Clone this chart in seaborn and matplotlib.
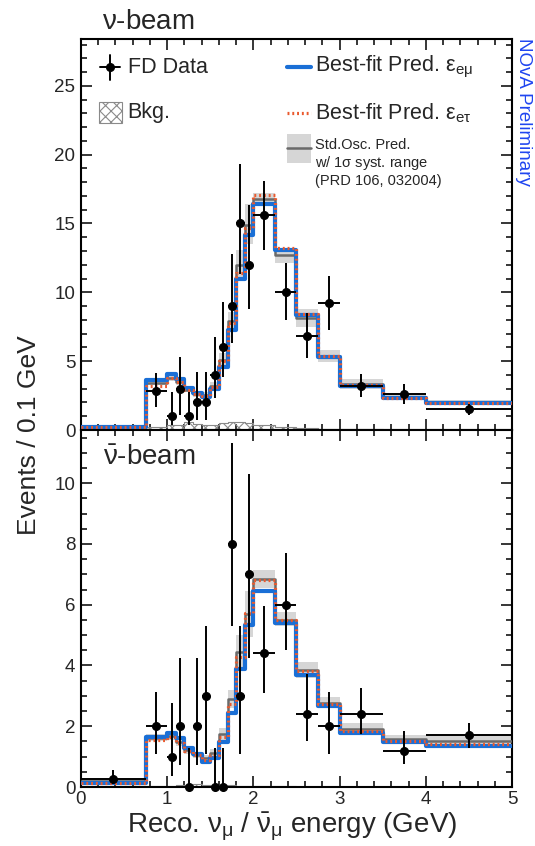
import numpy as np
import matplotlib
matplotlib.use("Agg")
import matplotlib.pyplot as plt
import seaborn as sns
from matplotlib.patches import Rectangle

# ---------------- data ----------------
bin_edges = [0.0, 0.75, 1.0, 1.1, 1.2, 1.3, 1.4, 1.5, 1.6, 1.7, 1.8, 1.9,
             2.0, 2.25, 2.5, 2.75, 3.0, 3.5, 4.0, 5.0]

# neutrino beam (top)
nu_bestfit_emu = [0.24, 3.63, 4.05, 3.68, 3.03, 2.70, 2.37, 2.95, 4.55, 7.30,
                  11.0, 14.2, 16.4, 13.05, 8.36, 5.33, 3.20, 2.30, 1.94]
nu_bestfit_etau = [0.22, 3.20, 3.75, 3.50, 2.90, 2.60, 2.47, 3.10, 5.00, 7.75,
                   11.4, 14.65, 17.05, 13.2, 8.42, 5.36, 3.24, 2.33, 1.97]
nu_std = [0.25, 3.45, 3.75, 3.50, 2.92, 2.58, 2.52, 3.20, 5.05, 7.90,
          12.0, 14.9, 16.75, 12.7, 8.15, 5.35, 3.35, 2.42, 2.00]
nu_std_lo = [0.15, 3.25, 3.55, 3.30, 2.75, 2.40, 2.30, 2.90, 4.50, 7.20,
             11.0, 13.5, 16.25, 12.1, 7.50, 4.95, 3.00, 2.20, 1.85]
nu_std_hi = [0.35, 3.65, 3.95, 3.70, 3.10, 2.75, 2.75, 3.50, 5.60, 8.60,
             13.1, 16.4, 17.25, 13.2, 8.80, 5.80, 3.70, 2.65, 2.15]
nu_bkg = [0.05, 0.25, 0.40, 0.40, 0.60, 0.45, 0.35, 0.35, 0.50, 0.55,
          0.55, 0.50, 0.35, 0.25, 0.15, 0.10, 0.05, 0.03, 0.02]
nu_data_x = [0.875, 1.05, 1.15, 1.25, 1.35, 1.45, 1.55, 1.65, 1.75, 1.85, 1.95,
             2.125, 2.375, 2.625, 2.875, 3.25, 3.75, 4.5]
nu_data_y = [2.8, 1.0, 3.0, 1.0, 2.0, 2.0, 4.0, 6.0, 9.0, 15.0, 12.0,
             15.6, 10.0, 6.8, 9.2, 3.2, 2.6, 1.5]
nu_data_lo = [1.70, 0.37, 1.10, 0.37, 0.74, 0.74, 2.34, 3.82, 6.33, 11.3, 8.77,
              13.1, 8.0, 5.2, 7.3, 2.42, 1.90, 1.12]
nu_data_hi = [4.12, 2.75, 5.30, 2.75, 4.25, 4.25, 6.78, 9.28, 12.79, 19.3, 16.35,
              18.1, 12.1, 8.5, 11.2, 4.05, 3.35, 1.90]

# antineutrino beam (bottom)
anu_bestfit_emu = [0.12, 1.66, 1.77, 1.60, 1.27, 1.10, 0.83, 0.94, 1.49, 2.45,
                   3.87, 5.33, 6.45, 5.40, 3.68, 2.66, 1.79, 1.49, 1.36]
anu_bestfit_etau = [0.12, 1.55, 1.66, 1.45, 1.20, 1.05, 0.90, 1.05, 1.66, 2.73,
                    4.27, 5.73, 6.80, 5.50, 3.82, 2.73, 1.84, 1.52, 1.40]
anu_std = [0.20, 1.62, 1.68, 1.48, 1.22, 1.05, 0.95, 1.12, 1.75, 2.90,
           4.45, 5.70, 6.85, 5.50, 3.85, 2.78, 1.92, 1.57, 1.50]
anu_std_lo = [0.10, 1.50, 1.55, 1.35, 1.10, 0.95, 0.85, 1.00, 1.55, 2.60,
              3.90, 4.95, 6.55, 5.30, 3.60, 2.60, 1.75, 1.45, 1.35]
anu_std_hi = [0.30, 1.75, 1.80, 1.60, 1.35, 1.15, 1.05, 1.25, 1.95, 3.20,
              5.00, 6.45, 7.15, 5.75, 4.10, 2.97, 2.10, 1.70, 1.70]
anu_bkg = [0.02, 0.03, 0.05, 0.06, 0.08, 0.10, 0.08, 0.06, 0.07, 0.06,
           0.05, 0.05, 0.04, 0.02, 0.01, 0.005, 0.0, 0.0, 0.0]
anu_data_x = [0.375, 0.875, 1.05, 1.15, 1.25, 1.35, 1.45, 1.55, 1.65, 1.75, 1.85,
              1.95, 2.125, 2.375, 2.625, 2.875, 3.25, 3.75, 4.5]
anu_data_y = [0.267, 2.0, 1.0, 2.0, 0.0, 2.0, 3.0, 0.0, 0.0, 8.0, 3.0,
              7.0, 4.4, 6.0, 2.4, 2.0, 2.4, 1.2, 1.7]
anu_data_lo = [0.099, 1.10, 0.37, 0.74, 0.0, 0.74, 1.10, 0.0, 0.0, 5.30, 1.10,
               4.25, 3.10, 4.50, 1.53, 1.10, 1.74, 0.76, 1.29]
anu_data_hi = [0.567, 3.12, 2.75, 4.25, 1.29, 4.25, 5.30, 1.29, 1.29, 11.32, 5.30,
               10.30, 5.95, 7.70, 3.71, 3.12, 3.26, 1.86, 2.12]

# ---------------- style ----------------
sns.set_theme(style="ticks")
plt.rcParams['font.family'] = ['Liberation Sans', 'DejaVu Sans']
plt.rcParams['mathtext.fontset'] = 'custom'
plt.rcParams['mathtext.rm'] = 'Liberation Sans'
plt.rcParams['mathtext.it'] = 'Liberation Sans:italic'
plt.rcParams['mathtext.bf'] = 'Liberation Sans:bold'
plt.rcParams['hatch.color'] = '#8a8a8a'
plt.rcParams['hatch.linewidth'] = 0.8

BLUE = '#1a6fd6'
RED = '#ea5a2e'
BAND = '#d6d6d6'
STD = '#6a6a6a'
HATCH = '#8a8a8a'

edges = np.array(bin_edges)
centers = 0.5 * (edges[:-1] + edges[1:])
widths = np.diff(edges)
bins_list = list(bin_edges)

fig = plt.figure(figsize=(5.35, 8.46), dpi=100)
ax1 = fig.add_axes([0.1514, 0.4917, 0.8056, 0.4622])
ax2 = fig.add_axes([0.1514, 0.0697, 0.8056, 0.4220])


def hist(ax, vals, **kw):
    sns.histplot(x=list(centers), weights=list(vals), bins=bins_list,
                 element='step', ax=ax, **kw)


def draw_panel(ax, blue, red, std, lo, hi, bkg, dx, dy, dlo, dhi):
    lo = np.array(lo)
    hi = np.array(hi)
    ax.bar(edges[:-1], hi - lo, bottom=lo, width=widths, align='edge',
           color=BAND, linewidth=0, zorder=1)
    n_before = len(ax.collections)
    hist(ax, bkg, fill=True, color=HATCH, linewidth=0.8, zorder=2)
    for coll in ax.collections[n_before:]:
        coll.set_facecolor('none')
        coll.set_edgecolor(HATCH)
        coll.set_hatch('xxx')
    hist(ax, std, fill=False, color=STD, linewidth=1.8, zorder=3)
    hist(ax, blue, fill=False, color=BLUE, linewidth=3.0, zorder=4)
    hist(ax, red, fill=False, color=RED, linewidth=2.3,
         linestyle=(0, (0.6, 0.9)), zorder=5)
    dx = np.array(dx)
    dy = np.array(dy)
    idx = np.searchsorted(edges, dx) - 1
    xerr = widths[idx] / 2
    yerr = [dy - np.array(dlo), np.array(dhi) - dy]
    ax.errorbar(dx, dy, xerr=xerr, yerr=yerr, fmt='o', color='black', ms=5.5,
                elinewidth=1.4, capsize=0, zorder=6, clip_on=False)
    ax.set_xlim(0, 5)
    ax.set_xlabel('')
    ax.set_ylabel('')
    ax.tick_params(which='both', direction='in', top=True, right=True,
                   labelsize=13.5, width=1.1, color='black')
    ax.tick_params(which='major', length=8, pad=4)
    ax.tick_params(axis='x', which='major', pad=2.5)
    ax.tick_params(which='minor', length=4.5)
    ax.set_xticks([0, 1, 2, 3, 4, 5])
    ax.set_xticks(np.arange(0, 5.01, 0.2), minor=True)
    for s in ax.spines.values():
        s.set_linewidth(1.5)
        s.set_color('black')


draw_panel(ax1, nu_bestfit_emu, nu_bestfit_etau, nu_std, nu_std_lo, nu_std_hi,
           nu_bkg, nu_data_x, nu_data_y, nu_data_lo, nu_data_hi)
draw_panel(ax2, anu_bestfit_emu, anu_bestfit_etau, anu_std, anu_std_lo, anu_std_hi,
           anu_bkg, anu_data_x, anu_data_y, anu_data_lo, anu_data_hi)

ax1.set_ylim(0, 28.4)
ax1.set_yticks([0, 5, 10, 15, 20, 25])
ax1.set_yticks(np.arange(0, 28.1, 1), minor=True)
ax1.tick_params(labelbottom=False)

ax2.set_ylim(0, 11.75)
ax2.set_yticks([0, 2, 4, 6, 8, 10])
ax2.set_yticks(np.arange(0, 11.6, 0.5), minor=True)

# ---------------- legend (manual) ----------------
t = ax1.transAxes
ax1.plot([0.044, 0.090], [0.928, 0.928], color='black', lw=1.4, transform=t)
ax1.plot([0.067, 0.067], [0.895, 0.960], color='black', lw=1.4, transform=t)
ax1.plot([0.067], [0.928], 'o', color='black', ms=5.5, transform=t)
ax1.text(0.108, 0.928, 'FD Data', transform=t, fontsize=15.5, va='center', ha='left')

ax1.add_patch(Rectangle((0.042, 0.785), 0.053, 0.054, transform=t,
                        facecolor='white', edgecolor=HATCH, hatch='xxx', lw=0.8))
ax1.text(0.108, 0.811, 'Bkg.', transform=t, fontsize=15.5, va='center', ha='left')

ax1.plot([0.478, 0.534], [0.928, 0.928], color=BLUE, lw=3.0, transform=t)
ax1.text(0.543, 0.928, r'Best-fit Pred. $\mathrm{\varepsilon_{e\mu}}$', transform=t,
         fontsize=15.5, va='center', ha='left')
ax1.plot([0.478, 0.534], [0.811, 0.811], color=RED, lw=2.3,
         linestyle=(0, (0.6, 0.9)), transform=t)
ax1.text(0.543, 0.811, r'Best-fit Pred. $\mathrm{\varepsilon_{e\tau}}$', transform=t,
         fontsize=15.5, va='center', ha='left')

ax1.add_patch(Rectangle((0.478, 0.683), 0.056, 0.074, transform=t,
                        facecolor=BAND, edgecolor='none'))
ax1.plot([0.478, 0.534], [0.721, 0.721], color=STD, lw=1.8, transform=t)
ax1.text(0.543, 0.728, 'Std.Osc. Pred.', transform=t, fontsize=10.5, va='center', ha='left')
ax1.text(0.543, 0.683, r'w/ 1$\mathrm{\sigma}$ syst. range', transform=t, fontsize=10.5,
         va='center', ha='left')
ax1.text(0.543, 0.636, '(PRD 106, 032004)', transform=t, fontsize=10.5,
         va='center', ha='left')

# ---------------- titles and labels ----------------
fig.text(0.19, 0.9657, r'$\mathrm{\nu}$-beam', fontsize=20, ha='left', va='baseline')
ax2.text(0.051, 0.902, r'$\mathrm{\bar{\nu}}$-beam', transform=ax2.transAxes,
         fontsize=20, ha='left', va='baseline')
fig.text(0.978, 0.955, 'NOvA Preliminary', color='#1f45f0', fontsize=13.5,
         rotation=270, ha='center', va='top')
fig.text(0.055, 0.486, 'Events / 0.1 GeV', fontsize=19, rotation=90,
         ha='center', va='center')
fig.text(0.546, 0.0165, r'Reco. $\mathrm{\nu_{\mu}}$ / $\mathrm{\bar{\nu}_{\mu}}$ energy (GeV)',
         fontsize=20, ha='center', va='baseline')

fig.savefig('out.png', dpi=100)
